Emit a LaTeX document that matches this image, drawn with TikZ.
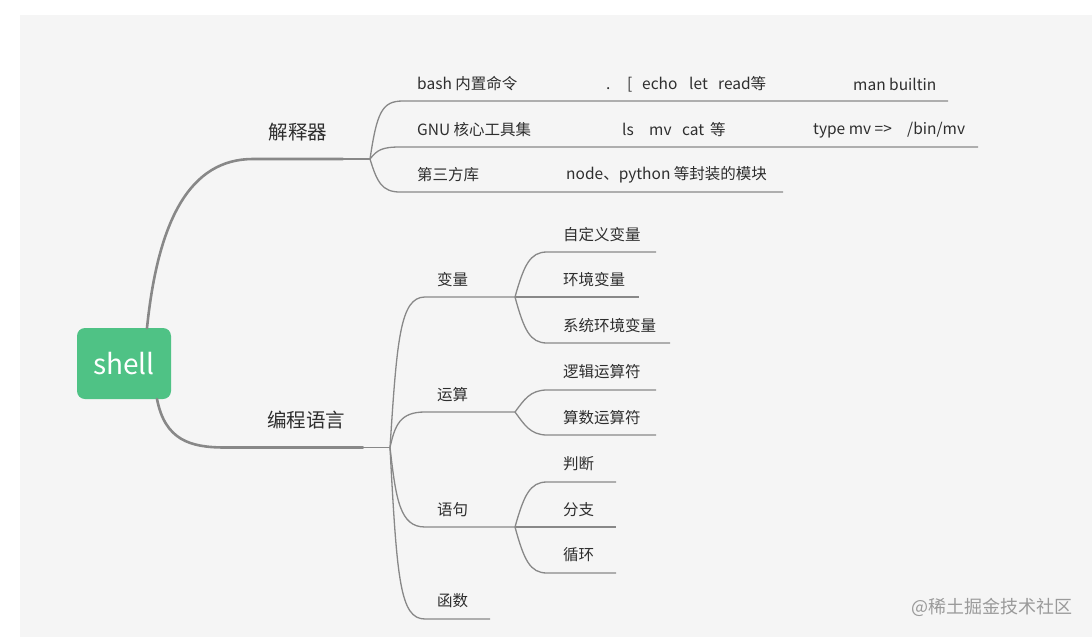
\documentclass[tikz,border=0pt]{standalone}
\usepackage{fontspec}
\setmainfont{Noto Sans CJK SC}
\definecolor{bgpanel}{HTML}{F5F5F5}
\definecolor{rootgreen}{HTML}{4FC285}
\definecolor{txt}{HTML}{2E2E2E}
\definecolor{linec}{HTML}{888888}
\definecolor{foot}{HTML}{9A9A9A}
\newcommand\putat[2]{\makebox[0pt][l]{#2}\hspace{#1pt}}
\tikzset{
  root/.style={fill=rootgreen, rounded corners=8pt, minimum width=94pt, minimum height=71pt, inner sep=0pt, text=white, font=\fontsize{28}{30}\selectfont},
  lvone/.style={text=txt, inner sep=0pt, font=\fontsize{19.5}{22}\selectfont},
  lab/.style={text=txt, inner sep=0pt, anchor=west, font=\fontsize{15.5}{18}\selectfont},
  thick branch/.style={draw=linec, line width=2.6pt, line cap=round},
  thin branch/.style={draw=linec, line width=1.3pt},
}
\begin{document}
\begin{tikzpicture}[x=1pt,y=-1pt]
\useasboundingbox (0,0) rectangle (1092,637);
\fill[white] (0,0) rectangle (1092,637);
\fill[bgpanel] (20,15) rectangle (1092,637);

% root
\node[root] (shell) at (124,363.5) {shell};

% level one labels
\node[lvone] (jsq) at (298,132) {解释器};
\node[lvone] (bcyy) at (306,420) {编程语言};

% junctions and line points
\coordinate (rt) at (147,328);
\coordinate (rb) at (157,399);
\coordinate (h1) at (253,159);
\coordinate (k1) at (343,159);
\coordinate (J1) at (370,159);
\coordinate (h2) at (225,447.5);
\coordinate (k2) at (363,447.5);
\coordinate (J2) at (390,447.5);

\draw[thick branch] (rt) .. controls (158,220) and (190,159) .. (h1) -- (k1);
\draw[thin branch] (k1) -- (J1);
\draw[thick branch] (rb) .. controls (165,440) and (190,447.5) .. (h2) -- (k2);
\draw[thin branch] (k2) -- (J2);

% group 1 rows
\coordinate (a1) at (403,101); \coordinate (a1e) at (948,101);
\coordinate (a2) at (400,147); \coordinate (a2e) at (978,147);
\coordinate (a3) at (400,192); \coordinate (a3e) at (783,192);
\draw[thin branch] (J1) .. controls (377,112) and (382,101) .. (a1) -- (a1e);
\draw[thin branch] (J1) .. controls (377,150) and (382,147) .. (a2) -- (a2e);
\draw[thin branch] (J1) .. controls (377,182) and (382,192) .. (a3) -- (a3e);

\node[lab] (bash) at (417,84) {bash 内置命令};
\node[lab] (bashex) at (606,84) {\putat{21}{.}\putat{15}{[}\putat{47}{echo}\putat{29}{let}read等};
\node[lab] (man) at (853,84) {man builtin};
\node[lab] (gnu) at (417,130) {GNU 核心工具集};
\node[lab] (gnuex) at (622,130) {\putat{27}{ls}\putat{33}{mv}\putat{28}{cat}等};
\node[lab] (type) at (813,130) {\putat{94}{type mv =>}/bin/mv};
\node[lab] (third) at (417,175) {第三方库};
\node[lab] (thirdex) at (566,175) {node、python 等封装的模块};

% group 2 level two
\coordinate (b1) at (425,297); \coordinate (J3) at (515,297);
\coordinate (b2) at (425,412); \coordinate (J4) at (515,412);
\coordinate (b3) at (425,527); \coordinate (J5) at (515,527);
\coordinate (b4) at (425,619); \coordinate (b4e) at (490,619);
\draw[thin branch] (J2) .. controls (397,340) and (400,297) .. (b1) -- (J3);
\draw[thin branch] (J2) .. controls (395,425) and (400,412) .. (b2) -- (J4);
\draw[thin branch] (J2) .. controls (396,500) and (400,527) .. (b3) -- (J5);
\draw[thin branch] (J2) .. controls (397,580) and (400,619) .. (b4) -- (b4e);

\node[lab] (bl) at (437,280) {变量};
\node[lab] (ys) at (437,395) {运算};
\node[lab] (yj) at (437,510) {语句};
\node[lab] (hs) at (437,601) {函数};

% level three under 变量
\coordinate (c1) at (547,252); \coordinate (c1e) at (656,252);
\coordinate (c2e) at (639,297);
\coordinate (c3) at (547,343); \coordinate (c3e) at (670,343);
\draw[thin branch] (J3) .. controls (524,265) and (530,252) .. (c1) -- (c1e);
\draw[thin branch] (J3) -- (c2e);
\draw[thin branch] (J3) .. controls (524,330) and (530,343) .. (c3) -- (c3e);
\node[lab] (zdy) at (563,235) {自定义变量};
\node[lab] (hj) at (563,280) {环境变量};
\node[lab] (xthj) at (563,326) {系统环境变量};

% level three under 运算
\coordinate (d1) at (547,390); \coordinate (d1e) at (656,390);
\coordinate (d2) at (547,435); \coordinate (d2e) at (656,435);
\draw[thin branch] (J4) .. controls (524,400) and (530,390) .. (d1) -- (d1e);
\draw[thin branch] (J4) .. controls (524,424) and (530,435) .. (d2) -- (d2e);
\node[lab] (lj) at (563,372) {逻辑运算符};
\node[lab] (ss) at (563,418) {算数运算符};

% level three under 语句
\coordinate (e1) at (547,482); \coordinate (e1e) at (616,482);
\coordinate (e2e) at (616,527);
\coordinate (e3) at (547,573); \coordinate (e3e) at (616,573);
\draw[thin branch] (J5) .. controls (524,495) and (530,482) .. (e1) -- (e1e);
\draw[thin branch] (J5) -- (e2e);
\draw[thin branch] (J5) .. controls (524,560) and (530,573) .. (e3) -- (e3e);
\node[lab] (pd) at (563,464) {判断};
\node[lab] (fz) at (563,510) {分支};
\node[lab] (xh) at (563,555) {循环};

% footer
\node[text=foot, inner sep=0pt, anchor=west, font=\fontsize{18}{20}\selectfont] (footer) at (911,607) {@稀土掘金技术社区};
\end{tikzpicture}
\end{document}
